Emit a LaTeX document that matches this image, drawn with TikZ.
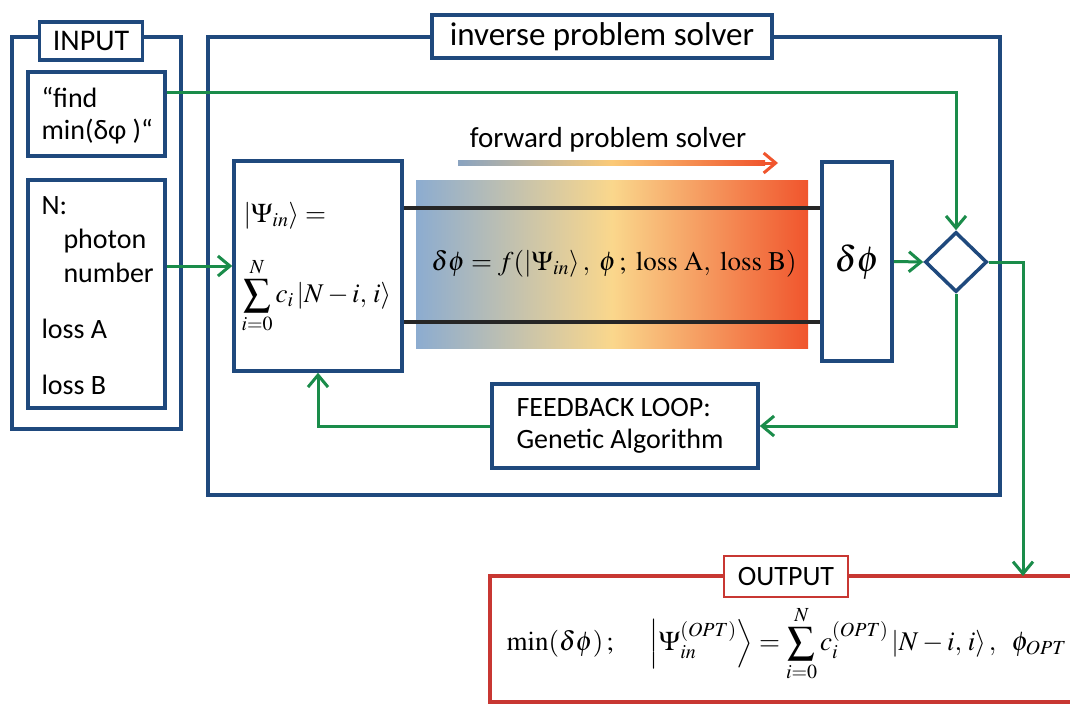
\documentclass[tikz,border=0pt]{standalone}
\usepackage{mathptmx}
\usepackage[no-math]{fontspec}
\setmainfont{Carlito}
\usetikzlibrary{shapes.geometric,arrows.meta,calc}
\definecolor{navy}{RGB}{31,73,125}
\definecolor{grn}{RGB}{26,140,74}
\definecolor{redb}{RGB}{200,55,50}
\definecolor{gblue}{RGB}{140,172,208}
\definecolor{gyel}{RGB}{250,215,140}
\definecolor{gred}{RGB}{240,85,45}
\begin{document}
\begin{tikzpicture}[x=1pt,y=-1pt,
  box/.style={draw=navy,line width=3.5pt,fill=white,inner sep=0pt},
  flow/.style={draw=grn,line width=3pt,-{Straight Barb[length=12pt,width=20pt,line width=3pt]}},
  lab/.style={font=\fontsize{28}{32}\selectfont},
  big/.style={font=\fontsize{30}{34}\selectfont},
  mth/.style={font=\fontsize{27}{30}\selectfont},
  rail/.style={line width=3.5pt,black!85}]
\useasboundingbox (0,0) rectangle (1070,706);
\fill[white] (0,0) rectangle (1070,706);

% INPUT group
\node[box,minimum width=169pt,minimum height=392pt] (inp) at (96.5,233) {};
\node[box,minimum width=103pt,minimum height=38pt,big] (inplab) at (91,41) {INPUT};
\node[box,minimum width=137pt,minimum height=84pt] (find) at (96.5,114) {};
\node[lab,anchor=west,align=left] (findtxt) at (38,116) {“find\\min(δφ )“};
\node[box,minimum width=137pt,minimum height=228pt] (nbox) at (96.5,294) {};
\node[lab,anchor=west] (tN) at (38,206) {N:};
\node[lab,anchor=west] (tph) at (60,241) {photon};
\node[lab,anchor=west] (tnu) at (60,273) {number};
\node[lab,anchor=west] (tla) at (38,329) {loss A};
\node[lab,anchor=west] (tlb) at (38,385) {loss B};

% inverse problem solver
\node[box,minimum width=792pt,minimum height=458pt] (inv) at (604,266) {};
\node[box,minimum width=340pt,minimum height=43pt,font=\fontsize{33}{36}\selectfont] (invlab) at (602,36.5) {inverse problem solver};

% state box
\node[box,minimum width=168pt,minimum height=210pt] (stt) at (318,266) {};
\node[mth,anchor=west] (psi) at (240,216) {$\left|\Psi_{in}\right\rangle =$};
\node[mth,anchor=west] (sum) at (238,296) {$\displaystyle\sum_{i=0}^{N} c_i\left|N-i,\,i\right\rangle$};

% gradient forward solver
\shade[left color=gblue,right color=gred,middle color=gyel] (416,180) rectangle (808,348);
\node[box,minimum width=70pt,minimum height=199pt] (dphi) at (857,261.5) {};
\node[font=\fontsize{36}{40}\selectfont] (dphitxt) at (857,262) {$\delta\phi$};
\draw[rail] ([yshift=58pt]stt.east) -- ([yshift=58pt]stt.east -| dphi.west);
\draw[rail] ([yshift=-56pt]stt.east) -- ([yshift=-56pt]stt.east -| dphi.west);
\node[mth] (feq) at (614,264) {$\delta\phi = f(\left|\Psi_{in}\right\rangle,\ \phi\,;\ \mathrm{loss\ A,\ loss\ B)}$};

\node[font=\fontsize{29}{32}\selectfont] (fwd) at (608,140) {forward problem solver};
\coordinate (fa) at (458,163);
\coordinate (fb) at (778,163);
\shade[left color=gblue!80!gray,right color=gred,middle color=gyel!85!orange] (458,160.5) rectangle (765,165.5);
\draw[gred,line width=3pt,-{Straight Barb[length=12pt,width=20pt,line width=3pt]}] ($(fb)+(-14,0)$) -- (fb);

% diamond
\node[draw=navy,line width=3.5pt,diamond,aspect=1,minimum width=62pt,minimum height=60pt,inner sep=0pt,fill=white] (dia) at (956,262) {};

% feedback
\node[box,minimum width=266pt,minimum height=84pt,align=left,lab] (fbk) at (625,426) {FEEDBACK LOOP:\\Genetic Algorithm\hspace*{10pt}};

% output
\coordinate (oTR) at (1075,576);
\coordinate (oBR) at (1075,702);
\draw[redb,line width=3.5pt] (oTR) -- (490,576) -- (490,702) -- (oBR);
\node[draw=redb,line width=2.5pt,fill=white,minimum width=124pt,minimum height=41pt,font=\fontsize{28}{32}\selectfont,inner sep=0pt] (outlab) at (786,576.5) {OUTPUT};
\coordinate (otop) at (1023,576);
\node[mth,anchor=west] (outeq) at (503,644) {$\min(\delta\phi)\,;\quad\ \left|\Psi_{in}^{(OPT)}\right\rangle = \displaystyle\sum_{i=0}^{N} c_i^{(OPT)}\left|N-i,\,i\right\rangle,\ \ \phi_{OPT}$};

% green flows
\draw[flow] ([yshift=21pt]find.east) -| (dia.north);
\draw[flow] (nbox.east |- stt.west) -- (stt.west);
\draw[flow] (dphi.east) -- (dia.west);
\draw[flow] (dia.east) -| (otop);
\draw[flow] (dia.south) |- (fbk.east);
\draw[flow] (fbk.west) -| (stt.south);
\end{tikzpicture}
\end{document}
